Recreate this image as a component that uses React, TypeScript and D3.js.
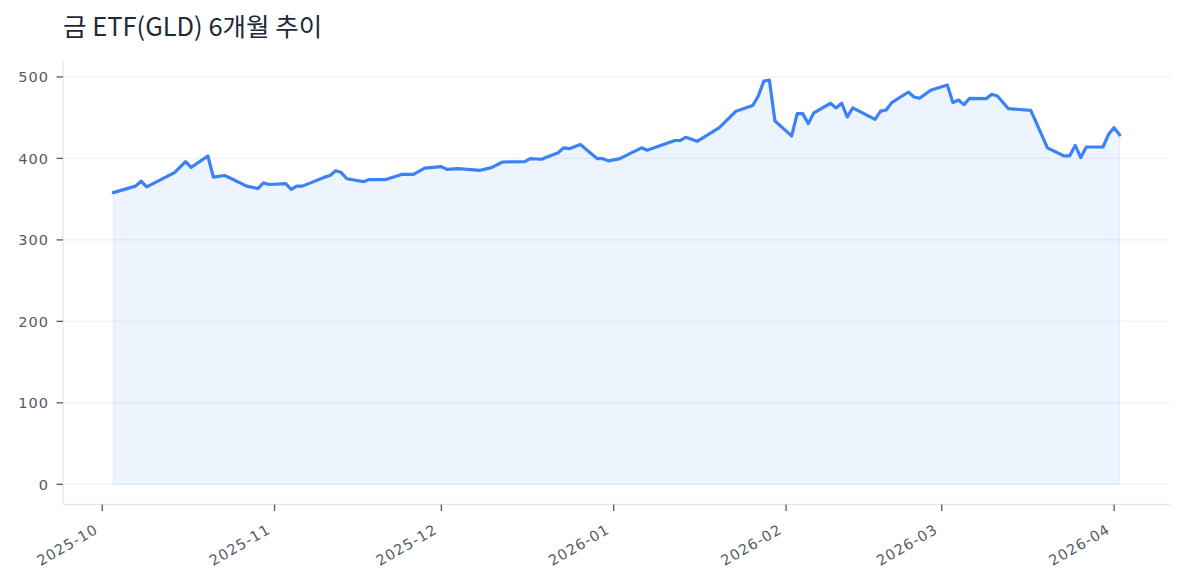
import React, { useEffect } from 'react';
import * as d3 from 'd3';

const title = '금 ETF(GLD) 6개월 추이';

const dates = [
  '2025-10-03', '2025-10-07', '2025-10-08', '2025-10-09', '2025-10-14', '2025-10-16', '2025-10-17',
  '2025-10-20', '2025-10-21', '2025-10-23', '2025-10-24', '2025-10-27', '2025-10-29', '2025-10-30',
  '2025-10-31', '2025-11-03', '2025-11-04', '2025-11-05', '2025-11-06', '2025-11-10', '2025-11-11',
  '2025-11-12', '2025-11-13', '2025-11-14', '2025-11-17', '2025-11-18', '2025-11-21', '2025-11-24',
  '2025-11-26', '2025-11-28', '2025-12-01', '2025-12-02', '2025-12-04', '2025-12-08', '2025-12-10',
  '2025-12-12', '2025-12-16', '2025-12-17', '2025-12-19', '2025-12-22', '2025-12-23', '2025-12-24',
  '2025-12-26', '2025-12-29', '2025-12-30', '2025-12-31', '2026-01-02', '2026-01-06', '2026-01-07',
  '2026-01-12', '2026-01-13', '2026-01-14', '2026-01-16', '2026-01-20', '2026-01-23', '2026-01-26',
  '2026-01-27', '2026-01-28', '2026-01-29', '2026-01-30', '2026-02-02', '2026-02-03', '2026-02-04',
  '2026-02-05', '2026-02-06', '2026-02-09', '2026-02-10', '2026-02-11', '2026-02-12', '2026-02-13',
  '2026-02-17', '2026-02-18', '2026-02-19', '2026-02-20', '2026-02-23', '2026-02-24', '2026-02-25',
  '2026-02-27', '2026-03-02', '2026-03-03', '2026-03-04', '2026-03-05', '2026-03-06', '2026-03-09',
  '2026-03-10', '2026-03-11', '2026-03-13', '2026-03-17', '2026-03-18', '2026-03-20', '2026-03-23',
  '2026-03-24', '2026-03-25', '2026-03-26', '2026-03-27', '2026-03-30', '2026-03-31', '2026-04-01',
  '2026-04-02',
];

const prices = [
  358, 366, 372, 365, 382.6, 396, 389,
  403, 377, 379, 376, 366, 363, 370,
  368, 369, 362, 366, 366, 377, 379,
  385, 382.6, 375, 371.5, 374, 374, 380.5,
  380.5, 388, 390, 386.6, 387.5, 385.4, 388.7,
  395.6, 396, 399.8, 399, 407, 413, 412,
  417, 399.8, 399.8, 397, 399.5, 413, 410,
  422, 422, 426, 421, 437.8, 458, 465,
  476.6, 495, 496, 446, 427.6, 455, 455,
  442.7, 456, 467.7, 462, 467.7, 451, 462,
  448, 458, 459.4, 468.5, 481.5, 475.4, 473.8,
  483.6, 490, 468.5, 471.7, 466, 473.8, 473.4,
  478.7, 476.6, 461, 459, 444, 413, 403,
  403, 416, 401, 414, 414, 429.6, 437.8,
  428.7,
];

const yTicks = [0, 100, 200, 300, 400, 500];
const xTickLabels = ['2025-10', '2025-11', '2025-12', '2026-01', '2026-02', '2026-03', '2026-04'];

const W = 1185;
const H = 585;
const M = { left: 63, right: 1170, top: 60, bottom: 504.5 };

export default function App() {
  useEffect(() => {
    document.body.style.margin = '0';
  }, []);

  const parse = d3.timeParse('%Y-%m-%d');
  const parseMonth = d3.timeParse('%Y-%m');
  const data = dates.map((d, i) => ({ date: parse(d) as Date, value: prices[i] }));

  const [x0, x1] = d3.extent(data, (d) => d.date) as [Date, Date];
  const span = x1.getTime() - x0.getTime();
  const x = d3
    .scaleTime()
    .domain([new Date(x0.getTime() - 0.05 * span), new Date(x1.getTime() + 0.05 * span)])
    .range([M.left, M.right]);

  const yMax = d3.max(prices) as number;
  const yPad = 0.05 * yMax;
  const y = d3.scaleLinear().domain([-yPad, yMax + yPad]).range([M.bottom, M.top]);

  const line = d3
    .line<{ date: Date; value: number }>()
    .x((d) => x(d.date))
    .y((d) => y(d.value));
  const area = d3
    .area<{ date: Date; value: number }>()
    .x((d) => x(d.date))
    .y0(y(0))
    .y1((d) => y(d.value));

  const tickFont = '"DejaVu Sans", "Noto Sans", sans-serif';
  const tickColor = '#535b68';

  return (
    <svg
      width={W}
      height={H}
      viewBox={`0 0 ${W} ${H}`}
      style={{ position: 'absolute', left: 0, top: 0, background: '#ffffff' }}
    >
      <rect x={0} y={0} width={W} height={H} fill="#ffffff" />
      <text
        x={63}
        y={36}
        fontFamily='"Noto Sans CJK KR", "Noto Sans", sans-serif'
        fontSize={25.5}
        fill="#1f2937"
      >
        {title}
      </text>

      {/* grid */}
      {yTicks.map((t) => (
        <line
          key={`g${t}`}
          x1={M.left}
          x2={M.right}
          y1={y(t)}
          y2={y(t)}
          stroke="#f1f2f5"
          strokeWidth={1.2}
        />
      ))}

      {/* area & line */}
      <path d={area(data) || ''} fill="rgba(59,130,246,0.09)" stroke="rgba(59,130,246,0.08)" strokeWidth={1.5} />
      <path
        d={line(data) || ''}
        fill="none"
        stroke="#3b82f6"
        strokeWidth={3.2}
        strokeLinejoin="round"
        strokeLinecap="round"
      />

      {/* spines */}
      <line x1={M.left} x2={M.left} y1={M.top} y2={M.bottom} stroke="#e5e7eb" strokeWidth={1.3} />
      <line x1={M.left} x2={M.right} y1={M.bottom} y2={M.bottom} stroke="#e5e7eb" strokeWidth={1.3} />

      {/* y ticks */}
      {yTicks.map((t) => (
        <g key={`y${t}`} transform={`translate(0,${y(t)})`}>
          <line x1={M.left - 6.5} x2={M.left} y1={0} y2={0} stroke={tickColor} strokeWidth={1.3} />
          <text
            x={M.left - 14}
            y={0}
            dy="0.36em"
            textAnchor="end"
            fontFamily={tickFont}
            fontSize={14.5}
            letterSpacing={1}
            fill={tickColor}
          >
            {d3.format('d')(t)}
          </text>
        </g>
      ))}

      {/* x ticks */}
      {xTickLabels.map((lab) => {
        const px = x(parseMonth(lab) as Date);
        return (
          <g key={lab}>
            <line x1={px} x2={px} y1={M.bottom} y2={M.bottom + 6.5} stroke={tickColor} strokeWidth={1.3} />
            <text
              transform={`translate(${px - 3},${M.bottom + 28}) rotate(-30)`}
              textAnchor="end"
              fontFamily={tickFont}
              fontSize={14.5}
              letterSpacing={1}
              fill={tickColor}
            >
              {lab}
            </text>
          </g>
        );
      })}
    </svg>
  );
}
